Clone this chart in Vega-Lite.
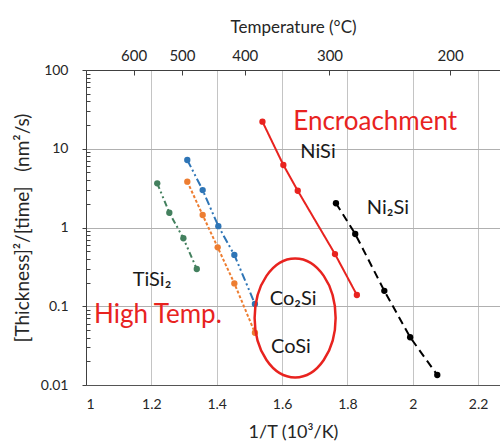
{
  "$schema": "https://vega.github.io/schema/vega-lite/v6.json",
  "width": 414,
  "height": 315,
  "autosize": {"type": "none"},
  "padding": {"left": 86, "top": 70, "right": 0, "bottom": 57},
  "config": {
    "font": "Lato",
    "view": {"stroke": null},
    "axis": {"labelFont": "Lato", "titleFont": "Lato", "labelColor": "#262626", "titleColor": "#262626", "titleFontWeight": "normal", "domainColor": "#404040", "tickColor": "#404040", "gridColor": "#c8c8c8", "gridOpacity": 1},
    "axisX": {"grid": true},
    "axisY": {"grid": true}
  },
  "datasets": {
    "series": [
      {"phase": "TiSi2", "x": 1.218, "y": 3.64},
      {"phase": "TiSi2", "x": 1.255, "y": 1.54},
      {"phase": "TiSi2", "x": 1.298, "y": 0.73},
      {"phase": "TiSi2", "x": 1.339, "y": 0.297},
      {"phase": "Co2Si", "x": 1.310, "y": 7.2},
      {"phase": "Co2Si", "x": 1.357, "y": 2.99},
      {"phase": "Co2Si", "x": 1.405, "y": 1.04},
      {"phase": "Co2Si", "x": 1.454, "y": 0.448},
      {"phase": "Co2Si", "x": 1.517, "y": 0.107},
      {"phase": "CoSi", "x": 1.310, "y": 3.82},
      {"phase": "CoSi", "x": 1.357, "y": 1.44},
      {"phase": "CoSi", "x": 1.403, "y": 0.56},
      {"phase": "CoSi", "x": 1.454, "y": 0.195},
      {"phase": "CoSi", "x": 1.517, "y": 0.0461},
      {"phase": "NiSi", "x": 1.540, "y": 22.1},
      {"phase": "NiSi", "x": 1.604, "y": 6.22},
      {"phase": "NiSi", "x": 1.648, "y": 2.93},
      {"phase": "NiSi", "x": 1.762, "y": 0.46},
      {"phase": "NiSi", "x": 1.829, "y": 0.139},
      {"phase": "Ni2Si", "x": 1.765, "y": 2.03},
      {"phase": "Ni2Si", "x": 1.824, "y": 0.827},
      {"phase": "Ni2Si", "x": 1.913, "y": 0.157},
      {"phase": "Ni2Si", "x": 1.992, "y": 0.0404},
      {"phase": "Ni2Si", "x": 2.075, "y": 0.0134}
    ],
    "blackLabels": [
      {"text": "NiSi", "x": 1.71, "y": 9.1},
      {"text": "Ni₂Si", "x": 1.924, "y": 1.77},
      {"text": "Co₂Si", "x": 1.634, "y": 0.1236},
      {"text": "CoSi", "x": 1.627, "y": 0.0304},
      {"text": "TiSi₂", "x": 1.202, "y": 0.215}
    ],
    "redLabels": [
      {"text": "Encroachment", "x": 1.885, "y": 21.9},
      {"text": "High Temp.", "x": 1.22, "y": 0.0774}
    ],
    "ellipse": [{"x": 1.64, "y": 0.071}]
  },
  "resolve": {"scale": {"x": "independent"}, "axis": {"y": "independent"}},
  "layer": [
    {
      "data": {"name": "series"},
      "mark": {"type": "point", "opacity": 0},
      "encoding": {
        "x": {"field": "x", "type": "quantitative", "scale": {"domain": [1, 2.267], "nice": false, "zero": false},
          "axis": {"orient": "top", "values": [1.1455, 1.2937, 1.4859, 1.7452, 2.1142], "labelExpr": "toString(round(1000 / datum.value - 273))", "title": "Temperature (°C)", "titleFontSize": 17, "labelFontSize": 15, "tickSize": -5, "labelPadding": 12, "titlePadding": 12, "grid": false}},
        "y": {"field": "y", "type": "quantitative", "scale": {"type": "log", "domain": [0.01, 100], "nice": false},
          "axis": {"orient": "left", "grid": false, "domain": false, "labels": false, "title": null, "tickSize": -4, "values": [0.02, 0.03, 0.04, 0.05, 0.06, 0.07, 0.08, 0.09, 0.2, 0.3, 0.4, 0.5, 0.6, 0.7, 0.8, 0.9, 2, 3, 4, 5, 6, 7, 8, 9, 20, 30, 40, 50, 60, 70, 80, 90]}}
      }
    },
    {
      "layer": [
        {
          "data": {"name": "series"},
          "mark": {"type": "line", "strokeWidth": 2},
          "encoding": {
            "x": {"field": "x", "type": "quantitative", "scale": {"domain": [1, 2.267], "nice": false, "zero": false},
              "axis": {"grid": true, "values": [1, 1.2, 1.4, 1.6, 1.8, 2, 2.2], "labelExpr": "toString(datum.value)", "title": "1/T (10³/K)", "titleFontSize": 18, "labelFontSize": 14, "labelPadding": 12, "ticks": false, "titlePadding": 12, "gridColor": "#c4c4c4", "domainColor": "#555555"}},
            "y": {"field": "y", "type": "quantitative", "scale": {"type": "log", "domain": [0.01, 100], "nice": false},
              "axis": {"orient": "left", "grid": true, "values": [0.01, 0.1, 1, 10, 100], "labelExpr": "toString(datum.value)", "title": "[Thickness]²/[time]\u00a0\u00a0\u00a0(nm²/s)", "titleFontSize": 19, "labelFontSize": 14, "tickSize": 4, "labelPadding": 14, "titlePadding": 8, "gridColor": "#b0b0b0"}},
            "color": {"field": "phase", "type": "nominal", "legend": null,
              "scale": {"domain": ["TiSi2", "Co2Si", "CoSi", "NiSi", "Ni2Si"], "range": ["#43805e", "#2e75b6", "#ed7d31", "#e8231f", "#000000"]}},
            "strokeDash": {"field": "phase", "type": "nominal", "legend": null,
              "scale": {"domain": ["TiSi2", "Co2Si", "CoSi", "NiSi", "Ni2Si"], "range": [[6, 3, 2, 3, 2, 3], [8, 3, 2, 3, 2, 3], [3, 2], [1, 0], [8, 5]]}}
          }
        },
        {
          "data": {"name": "series"},
          "mark": {"type": "point", "filled": true, "size": 40, "opacity": 1},
          "encoding": {
            "x": {"field": "x", "type": "quantitative"},
            "y": {"field": "y", "type": "quantitative"},
            "color": {"field": "phase", "type": "nominal", "legend": null}
          }
        },
        {
          "data": {"name": "ellipse"},
          "mark": {"type": "point", "shape": "M -1 0 A 1 1.47 0 1 0 1 0 A 1 1.47 0 1 0 -1 0 Z", "size": 6561, "filled": false, "stroke": "#e8231f", "strokeWidth": 2.5, "opacity": 1},
          "encoding": {
            "x": {"field": "x", "type": "quantitative"},
            "y": {"field": "y", "type": "quantitative"}
          }
        },
        {
          "data": {"name": "blackLabels"},
          "mark": {"type": "text", "fontSize": 20, "color": "#1a1a1a", "font": "Lato"},
          "encoding": {
            "x": {"field": "x", "type": "quantitative"},
            "y": {"field": "y", "type": "quantitative"},
            "text": {"field": "text"}
          }
        },
        {
          "data": {"name": "redLabels"},
          "mark": {"type": "text", "fontSize": 26, "color": "#e8231f", "font": "Lato"},
          "encoding": {
            "x": {"field": "x", "type": "quantitative"},
            "y": {"field": "y", "type": "quantitative"},
            "text": {"field": "text"}
          }
        }
      ]
    }
  ]
}
